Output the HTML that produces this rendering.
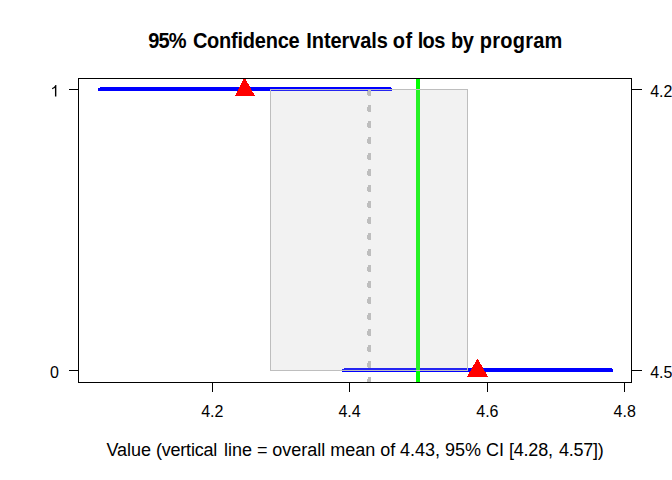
<!DOCTYPE html>
<html>
<head>
<meta charset="utf-8">
<title>95% Confidence Intervals of los by program</title>
<style>
html,body{margin:0;padding:0;background:#fff;}
body{width:672px;height:480px;position:relative;overflow:hidden;font-family:"Liberation Sans",sans-serif;color:#000;}
svg{position:absolute;left:0;top:0;}
.t{position:absolute;white-space:nowrap;line-height:1;font-size:16px;}
#title{position:absolute;left:0;top:30.5px;width:672px;height:24px;font-weight:bold;font-size:20px;line-height:1;transform:scaleY(1.06);transform-origin:0 17.5px;}
#title span{position:absolute;top:0;white-space:nowrap;}
#xlab{font-size:18px;letter-spacing:-0.02px;left:0.5px;width:710.4px;text-align:center;top:441px;}
</style>
</head>
<body>
<svg width="672" height="480" viewBox="0 0 672 480" shape-rendering="crispEdges">
  <!-- thick blue CI lines -->
  <rect x="98" y="88" width="294" height="3" fill="#0000ff"/>
  <rect x="100" y="87" width="291" height="1" fill="#0000ff"/>
  <rect x="342" y="369" width="271" height="3" fill="#0000ff"/>
  <rect x="344" y="368" width="268" height="1" fill="#0000ff"/>
  <!-- dotted overall mean line -->
  <g fill="#bebebe">
    <rect x="368" y="89" width="3" height="7"/>
    <rect x="367" y="91" width="1" height="4"/>
    <rect x="368" y="105" width="3" height="7"/>
    <rect x="367" y="107" width="1" height="4"/>
    <rect x="368" y="121" width="3" height="7"/>
    <rect x="367" y="123" width="1" height="4"/>
    <rect x="368" y="137" width="3" height="7"/>
    <rect x="367" y="139" width="1" height="4"/>
    <rect x="368" y="153" width="3" height="7"/>
    <rect x="367" y="155" width="1" height="4"/>
    <rect x="368" y="169" width="3" height="7"/>
    <rect x="367" y="171" width="1" height="4"/>
    <rect x="368" y="185" width="3" height="7"/>
    <rect x="367" y="187" width="1" height="4"/>
    <rect x="368" y="201" width="3" height="7"/>
    <rect x="367" y="203" width="1" height="4"/>
    <rect x="368" y="217" width="3" height="7"/>
    <rect x="367" y="219" width="1" height="4"/>
    <rect x="368" y="233" width="3" height="7"/>
    <rect x="367" y="235" width="1" height="4"/>
    <rect x="368" y="249" width="3" height="7"/>
    <rect x="367" y="251" width="1" height="4"/>
    <rect x="368" y="265" width="3" height="7"/>
    <rect x="367" y="267" width="1" height="4"/>
    <rect x="368" y="281" width="3" height="7"/>
    <rect x="367" y="283" width="1" height="4"/>
    <rect x="368" y="297" width="3" height="7"/>
    <rect x="367" y="299" width="1" height="4"/>
    <rect x="368" y="313" width="3" height="7"/>
    <rect x="367" y="315" width="1" height="4"/>
    <rect x="368" y="329" width="3" height="7"/>
    <rect x="367" y="331" width="1" height="4"/>
    <rect x="368" y="345" width="3" height="7"/>
    <rect x="367" y="347" width="1" height="4"/>
    <rect x="368" y="361" width="3" height="7"/>
    <rect x="367" y="363" width="1" height="4"/>
    <rect x="368" y="377" width="3" height="5"/>
    <rect x="367" y="379" width="1" height="3"/>
  </g>
  <!-- green line -->
  <rect x="416" y="79" width="4" height="303" fill="#00ff00"/>
  <!-- grey CI rectangle: translucent fill + solid border -->
  <rect x="270" y="89" width="198" height="282" fill="rgba(190,190,190,0.2)"/>
  <rect x="270.5" y="89.5" width="197" height="281" fill="none" stroke="#bebebe" stroke-width="1"/>
  <!-- triangles -->
  <g fill="#ff0000"><rect x="243" y="79" width="3" height="1"/><rect x="243" y="80" width="3" height="1"/><rect x="242" y="81" width="5" height="1"/><rect x="242" y="82" width="5" height="1"/><rect x="241" y="83" width="7" height="1"/><rect x="241" y="84" width="8" height="1"/><rect x="240" y="85" width="9" height="1"/><rect x="240" y="86" width="10" height="1"/><rect x="239" y="87" width="11" height="1"/><rect x="239" y="88" width="12" height="1"/><rect x="238" y="89" width="13" height="1"/><rect x="238" y="90" width="14" height="1"/><rect x="237" y="91" width="15" height="1"/><rect x="237" y="92" width="16" height="1"/><rect x="236" y="93" width="18" height="1"/><rect x="236" y="94" width="18" height="1"/><rect x="235" y="95" width="20" height="1"/></g>
  <g fill="#ff0000"><rect x="477" y="359" width="1" height="1"/><rect x="476" y="360" width="3" height="1"/><rect x="476" y="361" width="3" height="1"/><rect x="475" y="362" width="5" height="1"/><rect x="475" y="363" width="5" height="1"/><rect x="474" y="364" width="7" height="1"/><rect x="473" y="365" width="9" height="1"/><rect x="473" y="366" width="9" height="1"/><rect x="472" y="367" width="11" height="1"/><rect x="472" y="368" width="11" height="1"/><rect x="471" y="369" width="13" height="1"/><rect x="471" y="370" width="13" height="1"/><rect x="470" y="371" width="15" height="1"/><rect x="469" y="372" width="17" height="1"/><rect x="469" y="373" width="17" height="1"/><rect x="468" y="374" width="19" height="1"/><rect x="468" y="375" width="19" height="1"/><rect x="467" y="376" width="21" height="1"/></g>
  <!-- plot box -->
  <rect x="78.5" y="78.5" width="553" height="304" fill="none" stroke="#000" stroke-width="1"/>
  <!-- left ticks -->
  <rect x="69" y="89" width="10" height="1" fill="#000"/>
  <rect x="69" y="370" width="10" height="1" fill="#000"/>
  <!-- right ticks -->
  <rect x="631" y="89" width="11" height="1" fill="#000"/>
  <rect x="631" y="370" width="11" height="1" fill="#000"/>
  <!-- bottom ticks -->
  <rect x="212" y="382" width="1" height="10" fill="#000"/>
  <rect x="349" y="382" width="1" height="10" fill="#000"/>
  <rect x="487" y="382" width="1" height="10" fill="#000"/>
  <rect x="624" y="382" width="1" height="10" fill="#000"/>
  <!-- y label "1" -->
  <path shape-rendering="geometricPrecision" fill="#000" transform="translate(50.4,96.6) scale(0.0078125,-0.0078125)" d="M763 0H583V1147Q518 1085 412.5 1023Q307 961 223 930V1104Q374 1175 487 1276Q600 1377 647 1472H763Z"/>
</svg>
<div id="title"><span style="left:148.30px;letter-spacing:-0.9px">95%</span><span style="left:192.89px;letter-spacing:-0.23px">Confidence</span><span style="left:306.36px;letter-spacing:-0.09px">Intervals</span><span style="left:392.69px;letter-spacing:0.6px">of</span><span style="left:417.64px;letter-spacing:-0.6px">los</span><span style="left:451.11px;letter-spacing:-0.5px">by</span><span style="left:479.82px;letter-spacing:0.23px">program</span></div>
<div class="t" id="xlab">Value <span style="letter-spacing:-0.22px;margin-right:1.98px">(vertical</span> line = overall mean of 4.43, 95% CI <span style="letter-spacing:-0.2px;margin-right:1.2px">[4.28,</span> <span style="letter-spacing:-0.24px;margin-right:1.44px">4.57])</span></div>
<div class="t" style="left:0;width:59px;text-align:right;top:365.1px;">0</div>
<div class="t" style="left:650.2px;top:84px;">4.2</div>
<div class="t" style="left:650.2px;top:365px;">4.5</div>
<div class="t" style="left:162.3px;width:100px;text-align:center;top:404px;">4.2</div>
<div class="t" style="left:299.6px;width:100px;text-align:center;top:404px;">4.4</div>
<div class="t" style="left:437.4px;width:100px;text-align:center;top:404px;">4.6</div>
<div class="t" style="left:574.7px;width:100px;text-align:center;top:404px;">4.8</div>
</body>
</html>
